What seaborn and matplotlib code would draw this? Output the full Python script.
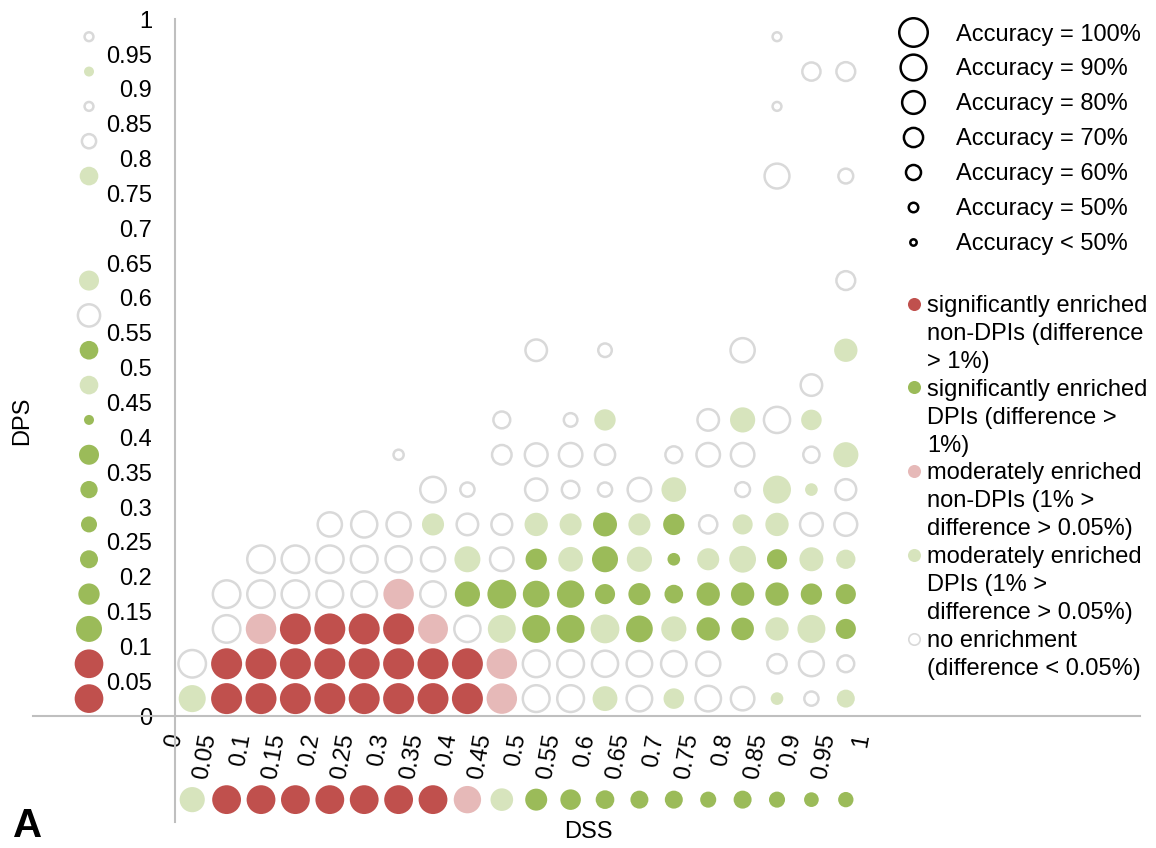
import numpy as np
import pandas as pd
import matplotlib
matplotlib.use("Agg")
import matplotlib.pyplot as plt
from matplotlib.lines import Line2D
import seaborn as sns

# ---------------------------------------------------------------------------
# Data
# ---------------------------------------------------------------------------
# Bin centres of the DSS (x) and DPS (y) grid
DSS_BINS = [0.025, 0.075, 0.125, 0.175, 0.225, 0.275, 0.325, 0.375, 0.425, 0.475,
            0.525, 0.575, 0.625, 0.675, 0.725, 0.775, 0.825, 0.875, 0.925, 0.975]
DPS_BINS = list(DSS_BINS)

TICK_VALUES = [0, 0.05, 0.1, 0.15, 0.2, 0.25, 0.3, 0.35, 0.4, 0.45, 0.5,
               0.55, 0.6, 0.65, 0.7, 0.75, 0.8, 0.85, 0.9, 0.95, 1]
TICK_LABELS = ["0", "0.05", "0.1", "0.15", "0.2", "0.25", "0.3", "0.35", "0.4",
               "0.45", "0.5", "0.55", "0.6", "0.65", "0.7", "0.75", "0.8",
               "0.85", "0.9", "0.95", "1"]

# Enrichment class of each cell: one string per DPS bin (bottom to top),
# one character per DSS bin (left to right).
#   R significantly enriched non-DPIs   G significantly enriched DPIs
#   r moderately enriched non-DPIs      g moderately enriched DPIs
#   o no enrichment                     . no pairs in the cell
GRID_CLASS = [
    "gRRRRRRRRroogogoogog",
    "oRRRRRRRRroooooo.ooo",
    ".orRRRRrogGGgGgGGggG",
    ".oooooroGGGGGGGGGGGG",
    "..oooooogoGgGgGggGgg",
    "....ooogooggGgGoggoo",
    ".......oo.oooog.oggo",
    "......o..oooo.ooo.og",
    ".........o.og..ogog.",
    "..................o.",
    "..........o.o...o..g",
    "....................",
    "...................o",
    "....................",
    "....................",
    ".................o.o",
    "....................",
    ".................o..",
    "..................oo",
    ".................o..",
]

# Prediction accuracy (%) of each non-empty cell, left to right
GRID_ACCURACY = [
    [86, 100, 100, 100, 100, 100, 100, 100, 100, 98, 85, 85, 79, 81, 67, 81, 75, 51, 53.5, 61],
    [87.5, 100, 100, 100, 100, 100, 100, 100, 100, 98, 85, 85, 83, 81, 81, 77, 64, 79, 58.5],
    [87.5, 98, 100, 100, 100, 100, 96, 83, 89, 89, 89, 92, 85, 80, 74.5, 72.5, 74.5, 89, 66],
    [87.5, 87.5, 87.5, 85, 81, 98, 81, 80, 92, 85, 87, 66, 71, 62.5, 74.5, 74.5, 74.5, 69, 66],
    [87.5, 87.5, 87.5, 85, 83, 77, 82.6, 75, 69, 78.5, 82.6, 80, 51, 71, 85, 66, 76.4, 64],
    [77, 83, 77, 71, 69.5, 67.7, 74.5, 71, 76.4, 71, 69, 61.4, 66, 74.5, 73, 73],
    [81, 53.5, 71.4, 60, 53.5, 75, 78.5, 54.6, 89, 51, 67.7],
    [47.5, 64.5, 73, 75, 66.2, 58.5, 75, 75, 57.3, 80],
    [58.5, 52.4, 69, 69.5, 80, 83, 67],
    [69.5],
    [69.5, 52.4, 77, 74.5],
    [],
    [62.8],
    [],
    [],
    [79, 54.6],
    [],
    [46],
    [61.4, 62.8],
    [46],
]

# Marginal results: DPS alone (left column) and DSS alone (bottom row)
DPS_MARGIN_CLASS = "RRGGGGGGGgGog..googo"
DPS_MARGIN_ACCURACY = [91.6, 91.6, 82.6, 69, 61, 56.9, 59.5, 65.7, 47.3, 62.5,
                       62.5, 71.4, 65.7, 62.5, 53.5, 46, 47.3, 46]
DSS_MARGIN_CLASS = "gRRRRRRRrgGGGGGGGGGG"
DSS_MARGIN_ACCURACY = [80, 92, 92, 92, 92, 92, 92, 92, 87, 72.5,
                       70.8, 67, 62.5, 61, 61, 57, 61, 57, 54.4, 55.6]

LEGEND_ACCURACY = [100, 90, 80, 70, 60, 50, 46]
LEGEND_ACCURACY_LABELS = ["Accuracy = 100%", "Accuracy = 90%", "Accuracy = 80%",
                          "Accuracy = 70%", "Accuracy = 60%", "Accuracy = 50%",
                          "Accuracy < 50%"]
CLASS_ORDER = ["R", "G", "r", "g", "o"]
CLASS_LABELS = {
    "R": ["significantly enriched", "non-DPIs (difference", "> 1%)"],
    "G": ["significantly enriched", "DPIs (difference >", "1%)"],
    "r": ["moderately enriched", "non-DPIs (1% >", "difference > 0.05%)"],
    "g": ["moderately enriched", "DPIs (1% >", "difference > 0.05%)"],
    "o": ["no enrichment", "(difference < 0.05%)"],
}

# ---------------------------------------------------------------------------
# Styling
# ---------------------------------------------------------------------------
PALETTE = {"R": "#C0504D", "G": "#9BBB59", "r": "#E6B9B8", "g": "#D7E4BD"}
EMPTY_EDGE = "#D9D9D9"
AXIS_GREY = "#BFBFBF"
DPS_MARGIN_X = -0.125
DSS_MARGIN_Y = -0.12

# Bubble area grows linearly with accuracy (zero area at ACC_FLOOR)
ACC_FLOOR = 41.2
PT2_PER_PCT = 8.47
SIZE_RANGE = (0, PT2_PER_PCT * (100 - ACC_FLOOR))
SIZE_NORM = (ACC_FLOOR, 100)
EDGE_LW = 1.8


def marker_diameter_pt(acc):
    return np.sqrt(PT2_PER_PCT * (acc - ACC_FLOOR))


# ---------------------------------------------------------------------------
# Assemble the table of bubbles
# ---------------------------------------------------------------------------
records = []
for dps, classes, accs in zip(DPS_BINS, GRID_CLASS, GRID_ACCURACY):
    values = iter(accs)
    for dss, cls in zip(DSS_BINS, classes):
        if cls != ".":
            records.append((dss, dps, cls, next(values)))

values = iter(DPS_MARGIN_ACCURACY)
for dps, cls in zip(DPS_BINS, DPS_MARGIN_CLASS):
    if cls != ".":
        records.append((DPS_MARGIN_X, dps, cls, next(values)))

values = iter(DSS_MARGIN_ACCURACY)
for dss, cls in zip(DSS_BINS, DSS_MARGIN_CLASS):
    if cls != ".":
        records.append((dss, DSS_MARGIN_Y, cls, next(values)))

df = pd.DataFrame(records, columns=["DSS", "DPS", "enrichment", "accuracy"])

# ---------------------------------------------------------------------------
# Figure
# ---------------------------------------------------------------------------
sns.set_style("white")
plt.rcParams["font.family"] = ["Liberation Sans", "DejaVu Sans"]
plt.rcParams["font.size"] = 17
plt.rcParams["text.color"] = "black"
plt.rcParams["axes.labelcolor"] = "black"

W, H = 1156, 848
fig = plt.figure(figsize=(W / 100, H / 100), dpi=100)
ax = fig.add_axes([33 / W, 26 / H, 1107 / W, 802.7 / H])

filled = df[df["enrichment"] != "o"]
empty = df[df["enrichment"] == "o"]

sns.scatterplot(data=filled, x="DSS", y="DPS", hue="enrichment", palette=PALETTE,
                size="accuracy", sizes=SIZE_RANGE, size_norm=SIZE_NORM,
                linewidth=0, legend=False, ax=ax, zorder=3)
sns.scatterplot(data=empty, x="DSS", y="DPS",
                size="accuracy", sizes=SIZE_RANGE, size_norm=SIZE_NORM,
                color="white", edgecolor=EMPTY_EDGE, linewidth=EDGE_LW,
                legend=False, ax=ax, zorder=3)

ax.set_xlim(-0.2064, 1.4026)
ax.set_ylim(-0.1521, 1.0)

for side in ("top", "right"):
    ax.spines[side].set_visible(False)
for side in ("left", "bottom"):
    ax.spines[side].set_position(("data", 0))
    ax.spines[side].set_color(AXIS_GREY)
    ax.spines[side].set_linewidth(1.5)

ax.set_xticks(TICK_VALUES)
ax.set_xticklabels(TICK_LABELS)
ax.set_yticks(TICK_VALUES)
ax.set_yticklabels(TICK_LABELS)
ax.tick_params(axis="both", length=0, labelsize=17, colors="black")
ax.tick_params(axis="y", pad=16.5)
ax.tick_params(axis="x", pad=13)
plt.setp(ax.get_xticklabels(), rotation=80, ha="right", va="center",
         rotation_mode="anchor")

ax.set_xlabel("DSS", fontsize=17)
ax.set_ylabel("DPS", fontsize=17)
ax.xaxis.set_label_coords(0.5014, 0.001)
ax.yaxis.set_label_coords(0.0, 0.5)

# Accuracy legend (bubble size)
acc_handles = [
    Line2D([], [], linestyle="none", marker="o",
           markersize=marker_diameter_pt(a) - EDGE_LW,
           markerfacecolor="none", markeredgecolor="black",
           markeredgewidth=EDGE_LW)
    for a in LEGEND_ACCURACY
]
leg1 = ax.legend(acc_handles, LEGEND_ACCURACY_LABELS, loc="upper left",
                 bbox_to_anchor=(894 / W, 1 - 23.5 / H),
                 bbox_transform=fig.transFigure, frameon=False,
                 borderpad=0, borderaxespad=0, fontsize=17,
                 handlelength=1.6, handletextpad=1.02, labelspacing=0.55)
ax.add_artist(leg1)

# Enrichment legend (colour), one entry per text line
cls_handles, cls_labels = [], []
for cls in CLASS_ORDER:
    if cls == "o":
        first = Line2D([], [], linestyle="none", marker="o", markersize=9.4 - 1.2,
                       markerfacecolor="white", markeredgecolor=EMPTY_EDGE,
                       markeredgewidth=1.2)
    else:
        first = Line2D([], [], linestyle="none", marker="o", markersize=9.4,
                       markerfacecolor=PALETTE[cls], markeredgewidth=0)
    for i, line in enumerate(CLASS_LABELS[cls]):
        cls_handles.append(first if i == 0 else Line2D([], [], linestyle="none"))
        cls_labels.append(line)

ax.legend(cls_handles, cls_labels, loc="upper left",
          bbox_to_anchor=(907 / W, 1 - 295 / H),
          bbox_transform=fig.transFigure, frameon=False,
          borderpad=0, borderaxespad=0, fontsize=17,
          handlelength=0.6, handletextpad=0.25, labelspacing=0.25)

fig.text(13 / W, 1 - 837 / H, "A", fontsize=29, fontweight="bold",
         ha="left", va="baseline")

fig.savefig("out.png", dpi=100)
